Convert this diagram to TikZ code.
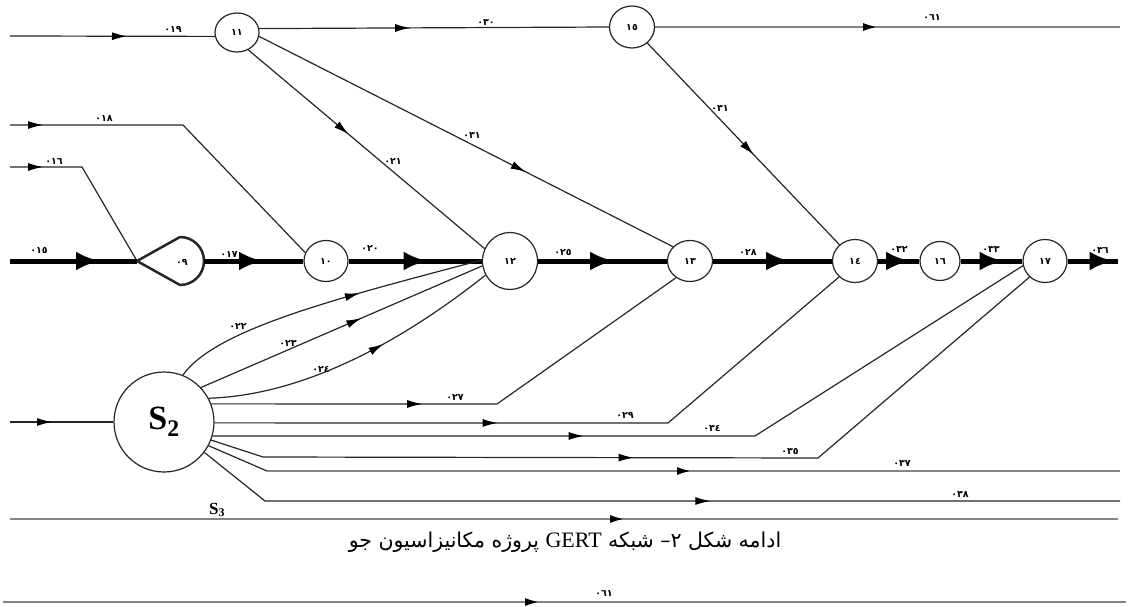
\documentclass[tikz,border=0pt]{standalone}
\usepackage{fontspec}
\setmainfont{Liberation Serif}
\newfontfamily\fa[Script=Arabic]{DejaVu Sans}
\TeXXeTstate=1
\usetikzlibrary{shapes.geometric,arrows.meta,decorations.markings}
\definecolor{ink}{HTML}{262626}
\definecolor{greyline}{HTML}{858585}
\tikzset{
  ev/.style={ellipse,draw=ink,line width=1.2pt,inner sep=0pt,
    font=\fa\bfseries\fontsize{9.5}{10}\selectfont},
  thn/.style={draw=ink,line width=1.2pt},
  gry/.style={draw=greyline,line width=2.6pt},
  thk/.style={draw=black,line width=5pt},
  lbl/.style={inner sep=0pt,font=\fa\bfseries\fontsize{9.5}{10}\selectfont},
  am/.style={postaction={decorate,decoration={markings,
    mark=at position #1 with {\arrow{Latex[length=15pt,width=8pt,color=black]}}}}},
  amk/.style={postaction={decorate,decoration={markings,
    mark=at position #1 with {\arrow{Latex[length=24pt,width=19pt,color=black]}}}}},
}
\begin{document}
\begin{tikzpicture}[x=1pt,y=-1pt]
\useasboundingbox (0,0) rectangle (1128,607);

% events
\node[ev,minimum width=44pt,minimum height=39pt] (n11) at (237,32.5) {١١};
\node[ev,minimum width=45pt,minimum height=42pt] (n15) at (632,27) {١٥};
\node[ev,minimum width=44pt,minimum height=41pt] (n10) at (326,261) {١٠};
\node[ev,minimum width=55pt,minimum height=57pt] (n12) at (510,261) {١٢};
\node[ev,minimum width=45pt,minimum height=41pt] (n13) at (690,261) {١٣};
\node[ev,minimum width=45pt,minimum height=43pt] (n14) at (855,261) {١٤};
\node[ev,minimum width=40pt,minimum height=39pt] (n16) at (940,261) {١٦};
\node[ev,minimum width=44pt,minimum height=43pt] (n17) at (1045,261) {١٧};
\node[circle,draw=ink,line width=1.2pt,minimum size=100pt,inner sep=0pt,
  font=\fontsize{34}{34}\selectfont\bfseries] (S2) at (164,422) {\raisebox{-2pt}{S\textsubscript{2}}};

% the drop-shaped event 09
\coordinate (n09w) at (137,261);
\coordinate (n09e) at (204,261);
\draw[ink,line width=2.5pt,line join=round] (n09w) -- (180,237)
  .. controls (193.3,237) and (204,247.7) .. (n09e)
  .. controls (204,274.3) and (193.3,285) .. (180,285) -- cycle;
\node[lbl] (n09) at (182,262) {٠٩};

% free ends and bends
\coordinate (s019) at (10,36);
\coordinate (e061) at (1120,27);
\coordinate (s018) at (10,125);
\coordinate (b018) at (183,125);
\coordinate (s016) at (10,167);
\coordinate (b016) at (82,167);
\coordinate (s015) at (10,261);
\coordinate (e036) at (1118,261);
\coordinate (s2in) at (10,422);
\coordinate (b027) at (497,404);
\coordinate (b029) at (668,423);
\coordinate (b034) at (755,436);
\coordinate (b035a) at (263,457);
\coordinate (b035b) at (818,458);
\coordinate (b037) at (267,471);
\coordinate (e037) at (1120,471);
\coordinate (b038) at (265,501);
\coordinate (e038) at (1120,501);
\coordinate (s3a) at (10,519);
\coordinate (s3b) at (1118,519);
\coordinate (bta) at (3,602);
\coordinate (btb) at (1126,602);

% upper activities
\draw[thn,am=117pt] (s019) -- (n11.190);
\draw[thn,am=151pt] (n11.10) -- (n15.west);
\draw[gry,am=223pt] (n15.east) -- (e061);
\draw[thn,am=154pt] (n15) -- (n14);
\draw[thn,am=131pt] (n11.-57) -- (n12.154);
\draw[thn,am=299pt] (n11.-10) -- (n13.140);
\draw[thn,am=33pt] (s018) -- (b018) -- (n10.158);
\draw[thn,am=33pt] (s016) -- (b016) -- (n09w);

% critical chain
\draw[thk,amk=90pt] (s015) -- (n09w);
\draw[thk,amk=59pt] (n09e) -- (n10);
\draw[thk,amk=79pt] (n10) -- (n12);
\draw[thk,amk=76pt] (n12) -- (n13);
\draw[thk,amk=77pt] (n13) -- (n14);
\draw[thk,amk=32pt] (n14) -- (n16);
\draw[thk,amk=43pt] (n16) -- (n17);
\draw[thk,amk=46pt] (n17) -- (e036);

% activities leaving S2
\draw[thn,am=42pt] (s2in) -- (S2);
\draw[thn,am=0.61] (S2.68) .. controls (215,330) and (330,300) .. (n12.178);
\draw[thn,am=0.57] (S2.43) -- (n12.190);
\draw[thn,am=0.6] (S2.28) .. controls (310,395) and (410,335) .. (n12.210);
\draw[thn,am=211pt] (S2.21) -- (b027) -- (n13.230);
\draw[thn,am=283pt] (S2.-1) -- (b029) -- (n14.225);
\draw[thn,am=371pt] (S2.-16) -- (b034) -- (n17.192);
\draw[thn,am=425pt] (S2.-21) -- (b035a) -- (b035b) -- (n17.226);
\draw[thn] (S2.-28) -- (b037);
\draw[gry,am=425pt] (b037) -- (e037);
\draw[thn,am=523pt] (S2.-37) -- (b038) -- (e038);
\draw[gry,am=615pt] (s3a) -- (s3b);
\draw[gry,am=537pt] (bta) -- (btb);

% activity labels
\node[lbl] (l019) at (173,29) {٠١٩};
\node[lbl] (l030) at (486,22) {٠٣٠};
\node[lbl] (l061) at (932,17) {٠٦١};
\node[lbl] (l018) at (104,118) {٠١٨};
\node[lbl] (l016) at (54,161) {٠١٦};
\node[lbl] (l021) at (393,161) {٠٢١};
\node[lbl] (l026) at (472,135) {٠٣١};
\node[lbl] (l031) at (720,108) {٠٣١};
\node[lbl] (l015) at (39,250) {٠١٥};
\node[lbl] (l017) at (229,254) {٠١٧};
\node[lbl] (l020) at (370,248) {٠٢٠};
\node[lbl] (l025) at (563,252) {٠٢٥};
\node[lbl] (l028) at (748,252) {٠٢٨};
\node[lbl] (l032) at (899,249) {٠٣٢};
\node[lbl] (l033) at (991,249) {٠٣٣};
\node[lbl] (l036) at (1100,250) {٠٣٦};
\node[lbl] (l022) at (238,326) {٠٢٢};
\node[lbl] (l023) at (288,343) {٠٢٣};
\node[lbl] (l024) at (321,369) {٠٢٤};
\node[lbl] (l027) at (455,397) {٠٢٧};
\node[lbl] (l029) at (625,415) {٠٢٩};
\node[lbl] (l034) at (712,428) {٠٣٤};
\node[lbl] (l035) at (790,451) {٠٣٥};
\node[lbl] (l037) at (902,463) {٠٣٧};
\node[lbl] (l038) at (960,494) {٠٣٨};
\node[lbl] (l061b) at (604,593) {٠٦١};
\node[inner sep=0pt,font=\fontsize{17}{17}\selectfont\bfseries] (s3lbl) at (217,510) {S\textsubscript{3}};

% caption
\node[inner sep=0pt,font=\fa\fontsize{20.5}{22}\selectfont] (cap) at (565,542)
  {\beginR ادامه شکل ٢– شبکه \beginL{\rmfamily\fontsize{22}{22}\selectfont GERT}\endL{} پروژه مکانیزاسیون جو\endR};
\end{tikzpicture}
\end{document}
